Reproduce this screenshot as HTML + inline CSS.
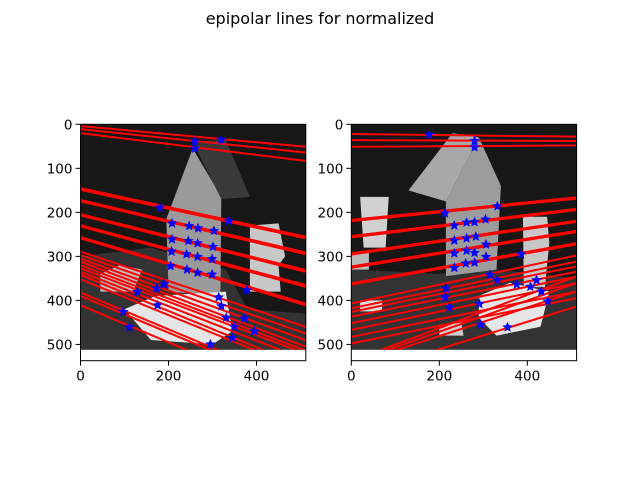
<!DOCTYPE html>
<html><head><meta charset="utf-8"><style>
body{margin:0;background:#fff;}
svg{display:block;font-family:"DejaVu Sans","Liberation Sans",sans-serif;}
</style></head><body>
<svg id="fig" width="640" height="480" viewBox="0 0 640 480" xmlns="http://www.w3.org/2000/svg">
<text x="320" y="24" text-anchor="middle" font-size="16">epipolar lines for normalized</text>
</svg>
<script>
const yTicks=[0,100,200,300,400,500];
const xTicks=[0,200,400];
const leftLineY0=[4,11,20,145,149,172,175,204,207,229,232,256,259,289,297,305,312,320,327,335,342,352,382,390,411];
const leftLineY1=[51,64,83,255,259,291,295,331,335,365,369,407,411,460,475,490,505,514,521,535,552,560,596,603,626];
const leftPtX=[260,320,260,180,208,247,267,303,337,208,245,266,301,207,241,266,299,205,242,266,299,190,173,129,175,314,320,331,97,111,345,295,373,395,378,349];
const leftPtY=[39,36,55,189,225,231,236,242,220,261,265,270,278,289,295,301,306,322,330,337,341,363,373,381,411,393,413,439,426,461,485,500,441,470,377,460];
const rightLineY0=[22,36,51,217,220,254,257,293,296,323,326,361,364,407,418,426,437,452,467,483,498,538,542,546,573];
const rightLineY1=[28,38,48,166,169,192,195,219,222,242,245,270,273,298,312,323,335,346,361,380,395,346,361,380,414];
const rightPtX=[177,280,280,213,332,234,262,280,305,234,262,283,306,234,262,280,306,234,260,280,315,332,376,421,432,446,386,407,215,213,223,291,294,355];
const rightPtY=[24,38,52,202,186,230,223,222,216,264,259,255,273,293,287,292,301,326,316,314,342,354,364,354,380,402,295,369,373,393,416,408,455,461];
const NS='http://www.w3.org/2000/svg';
const svg=document.getElementById('fig');
function mk(tag,attrs,parent){const e=document.createElementNS(NS,tag);for(const k in attrs)e.setAttribute(k,attrs[k]);(parent||svg).appendChild(e);return e;}
function star(cx,cy,r){let p=[];for(let i=0;i<10;i++){const a=-Math.PI/2+i*Math.PI/5;const rr=i%2?r*0.45:r;p.push((cx+rr*Math.cos(a)).toFixed(1)+','+(cy+rr*Math.sin(a)).toFixed(1));}return p.join(' ');}
function axes(name,left,y0s,y1s,px,py,shapes){
  const top=124.3,W=225.3,H=236.4,xmax=512,ymax=537;
  const sx=v=>left+v*W/xmax, sy=v=>top+v*H/ymax;
  const g=mk('g',{});
  
  
  const cid='clip-'+name;
  const cp=mk('clipPath',{id:cid},g);
  mk('rect',{x:sx(0),y:sy(0),width:sx(512)-sx(0),height:sy(512)-sy(0)},cp);
  const img=mk('rect',{x:sx(0),y:sy(0),width:sx(512)-sx(0),height:sy(512)-sy(0),fill:'#171717'},g);
  
  
  const ig=mk('g',{'clip-path':'url(#'+cid+')'},g);
  shapes.forEach(s=>{const pl=mk('polygon',{points:s[1].map((v,i)=>i%2?sy(v):sx(v)).reduce((a,v,i)=>a+(i%2?','+v+' ':v),''),fill:s[0]},ig);
    
    });
  for(let i=0;i<y0s.length;i++){
    const l=mk('line',{x1:sx(0),y1:sy(y0s[i]),x2:sx(511),y2:sy(y1s[i]),stroke:'#ff0000','stroke-width':2},ig);
    
    
  }
  for(let i=0;i<px.length;i++){
    const s=mk('polygon',{points:star(sx(px[i]),sy(py[i]),5.5),fill:'#0000ff'},g);
    
    
  }
  const fr=mk('rect',{x:left,y:top,width:W,height:H,fill:'none',stroke:'#000','stroke-width':1},g);
  
  
  yTicks.forEach(t=>{
    mk('line',{x1:left,x2:left-5,y1:sy(t),y2:sy(t),stroke:'#000'},g);
    const tx=mk('text',{x:left-8,y:sy(t)+5,'text-anchor':'end','font-size':13.5},g);
    tx.textContent=t;
    
    
  });
  xTicks.forEach(t=>{
    mk('line',{x1:sx(t),x2:sx(t),y1:top+H,y2:top+H+5,stroke:'#000'},g);
    const tx=mk('text',{x:sx(t),y:top+H+20,'text-anchor':'middle','font-size':13.5},g);
    tx.textContent=t;
    
    
  });
}
const leftShapes=[
 ['#333',[0,300,160,280,330,330,380,420,512,430,512,512,0,512]],
 ['#9a9a9a',[195,215,255,55,320,165,318,390,200,380]],
 ['#3a3a3a',[255,40,330,35,385,165,320,170]],
 ['#c8c8c8',[385,230,450,225,465,300,450,320,455,380,385,380]],
 ['#e6e6e6',[100,420,170,390,330,380,345,470,300,500,160,490]],
 ['#bbb',[45,340,90,320,140,330,120,380,45,380]]
];
const rightShapes=[
 ['#333',[0,330,200,340,330,330,512,350,512,512,0,512]],
 ['#a8a8a8',[130,150,230,20,290,30,215,175]],
 ['#9c9c9c',[215,175,290,30,340,140,330,330,215,345]],
 ['#d0d0d0',[20,165,85,165,78,280,28,280]],
 ['#c8c8c8',[390,210,445,210,450,270,440,370,392,370]],
 ['#e6e6e6',[290,390,360,360,450,380,430,460,330,480,290,440]],
 ['#bbb',[0,290,40,290,40,330,0,330]],
 ['#ddd',[20,400,70,400,70,425,20,425]],
 ['#ccc',[200,455,250,450,255,480,200,480]]
];
axes('left-image-axes',80.5,leftLineY0,leftLineY1,leftPtX,leftPtY,leftShapes);
axes('right-image-axes',351.3,rightLineY0,rightLineY1,rightPtX,rightPtY,rightShapes);
</script>
</body></html>
